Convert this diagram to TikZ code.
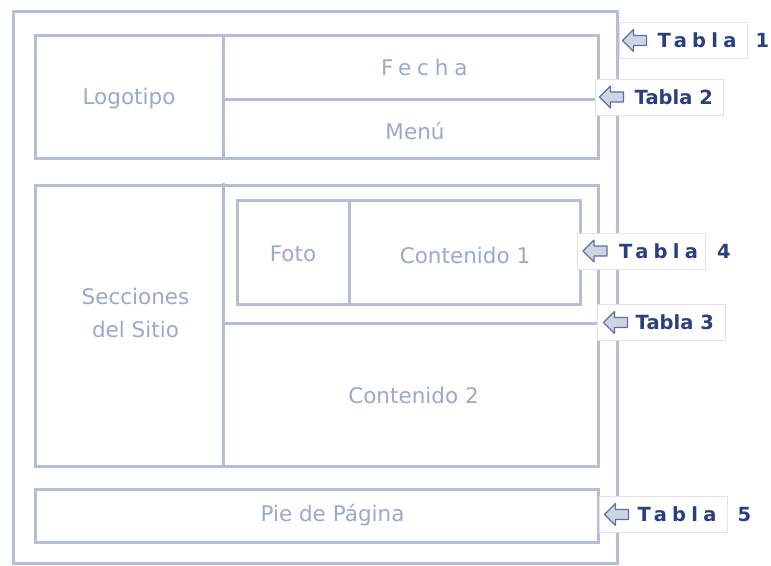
\documentclass[tikz,border=0pt]{standalone}
\usepackage{fontspec}
\setmainfont{DejaVu Sans}
\usetikzlibrary{positioning}
\definecolor{marco}{RGB}{180,190,213}
\definecolor{textoclaro}{RGB}{155,168,200}
\definecolor{azul}{RGB}{43,63,125}
\definecolor{flecha}{RGB}{205,212,228}
\definecolor{borde}{RGB}{222,226,234}
\tikzset{
  tabla/.style    = {draw=marco, line width=3pt},
  celda/.style    = {text=textoclaro, align=center, inner sep=0pt,
                     font=\fontsize{21.5}{33}\selectfont},
  espaciado/.style = {celda, font=\fontsize{21.5}{33}\selectfont\addfontfeature{LetterSpace=27}},
  caja/.style     = {draw=borde, line width=1pt, fill=white, minimum width=128pt,
                     minimum height=36pt, inner sep=0pt},
  rotulo/.style   = {text=azul, inner sep=0pt, node distance=0pt,
                     font=\fontsize{19.5}{22}\selectfont\bfseries},
  separado/.style = {rotulo, font=\fontsize{19.5}{22}\selectfont\bfseries\addfontfeature{LetterSpace=27}},
  flechita/.pic   = {\draw[draw=azul!75, fill=flecha, line width=1.1pt, line join=round]
                     (0,0) -- (11,-11) -- (11,-5) -- (24,-5) -- (24,5) -- (11,5) -- (11,11) -- cycle;}
}
\begin{document}
\begin{tikzpicture}[x=1pt, y=-1pt]
\useasboundingbox (0,0) rectangle (771,565);

% marco general (Tabla 1)
\draw[tabla] (13,11) rectangle (617,563);

% cabecera (Tabla 2)
\draw[tabla] (35,35) rectangle (598,158);
\draw[tabla] (223,35) -- (223,158);
\draw[tabla] (223,99) -- (598,99);

% cuerpo (Tabla 3 y Tabla 4)
\draw[tabla] (35,185) rectangle (598,466);
\draw[tabla] (223,183) -- (223,466);
\draw[tabla] (223,323) -- (598,323);
\draw[tabla] (237,200) rectangle (580,304);
\draw[tabla] (349,200) -- (349,304);

% pie (Tabla 5)
\draw[tabla] (35,489) rectangle (598,542);

% textos de las celdas
\node[celda] (logo) at (129,99) {Logotipo};
\node[espaciado, anchor=west] (fecha) at (381,67) {Fecha};
\node[celda] (menu) at (415,131) {Menú};
\node[celda] (secc) at (135.5,313) {Secciones\\del Sitio};
\node[celda] (foto) at (293,254) {Foto};
\node[celda] (cont1) at (465,255) {Contenido 1};
\node[celda] (cont2) at (413.5,395) {Contenido 2};
\node[celda] (pie) at (332.5,515) {Pie de Página};

% etiquetas
\node[caja] (c1) at (683,40.5) {};
\pic at ([xshift=4pt]c1.west) {flechita};
\node[separado, right=39pt of c1.west] (c1t) {Tabla};
\node[rotulo, right=8pt of c1.east] (c1n) {1};

\node[caja] (c2) at (659,97) {};
\pic at ([xshift=5pt]c2.west) {flechita};
\node[rotulo, right=40pt of c2.west] (c2t) {Tabla 2};

\node[caja] (c4) at (641.5,251) {};
\pic at ([xshift=6pt]c4.west) {flechita};
\node[separado, right=42pt of c4.west] (c4t) {Tabla};
\node[rotulo, right=11pt of c4.east] (c4n) {4};

\node[caja] (c3) at (661,322.5) {};
\pic at ([xshift=7pt]c3.west) {flechita};
\node[rotulo, right=39pt of c3.west] (c3t) {Tabla 3};

\node[caja] (c5) at (663,514.5) {};
\pic at ([xshift=6pt]c5.west) {flechita};
\node[separado, right=39pt of c5.west] (c5t) {Tabla};
\node[rotulo, right=10pt of c5.east] (c5n) {5};

\end{tikzpicture}
\end{document}
